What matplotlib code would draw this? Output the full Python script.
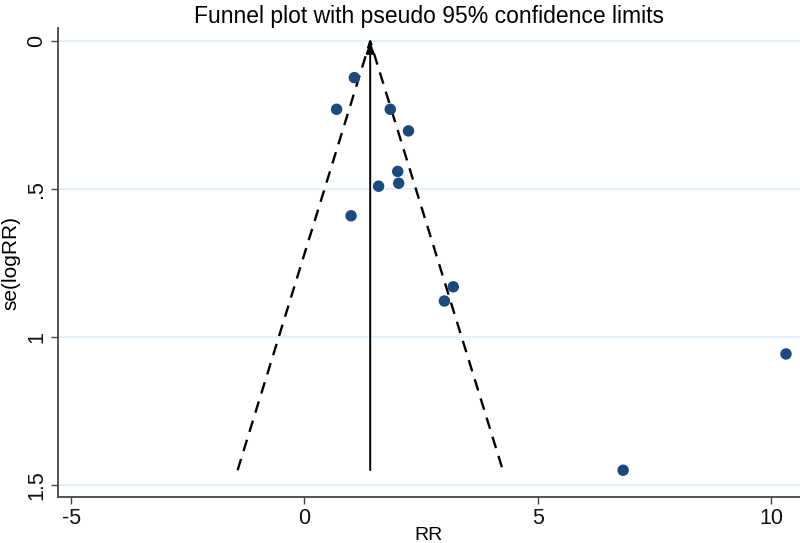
import numpy as np
import matplotlib
matplotlib.use("Agg")
import matplotlib.pyplot as plt

plt.rcParams["font.family"] = ["Liberation Sans", "DejaVu Sans"]
plt.rcParams["axes.unicode_minus"] = False

# study estimates
rr = [1.07, 0.69, 1.84, 2.23, 2.00, 2.02, 1.59, 1.00, 3.00, 3.19, 10.32, 6.83]
se = [0.123, 0.23, 0.23, 0.303, 0.44, 0.48, 0.49, 0.59, 0.878, 0.83, 1.057, 1.45]

# pooled estimate and funnel extent
pooled = 1.41
se_max = 1.45
z = 1.96

xticks = [-5, 0, 5, 10]
yticks = [0, 0.5, 1, 1.5]
ytick_labels = ["0", ".5", "1", "1.5"]

fig = plt.figure(figsize=(8, 5.43), dpi=100)
ax = fig.add_axes([0.0725, 0.085, 0.9275, 0.863])

ax.set_xlim(-5.28, 10.62)
ax.set_ylim(1.54, -0.044)

for y in yticks:
    ax.axhline(y, color="#e2edf5", lw=1.2, zorder=0)

# pseudo 95% limits
ax.plot([pooled - z * se_max, pooled, pooled + z * se_max], [se_max, 0, se_max],
        color="black", ls=(0, (5, 3.5)), lw=1.7, zorder=2)
ax.annotate("", xy=(pooled, 0), xytext=(pooled, se_max),
            arrowprops=dict(arrowstyle="-|>,head_length=0.7,head_width=0.25",
                            color="black", lw=1.4, shrinkA=0, shrinkB=0), zorder=2)

ax.scatter(rr, se, s=68, color="#1a4a7e", edgecolors="none", zorder=3)

ax.set_xticks(xticks)
ax.set_yticks(yticks)
ax.set_yticklabels(ytick_labels, rotation=90, va="center")
for s in ["top", "right"]:
    ax.spines[s].set_visible(False)
for s in ["left", "bottom"]:
    ax.spines[s].set_color("#444444")
    ax.spines[s].set_linewidth(1.3)
ax.tick_params(axis="both", direction="out", length=5, width=1, color="#444444",
               labelsize=15.5, labelcolor="#111111", pad=3)

ax.set_xlabel("RR", fontsize=14)
ax.xaxis.set_label_coords(0.5, -0.064)
ax.set_ylabel("se(logRR)", fontsize=15, labelpad=4)
ax.set_title("Funnel plot with pseudo 95% confidence limits", fontsize=16.5, pad=3)

fig.savefig("out.png", dpi=100)
